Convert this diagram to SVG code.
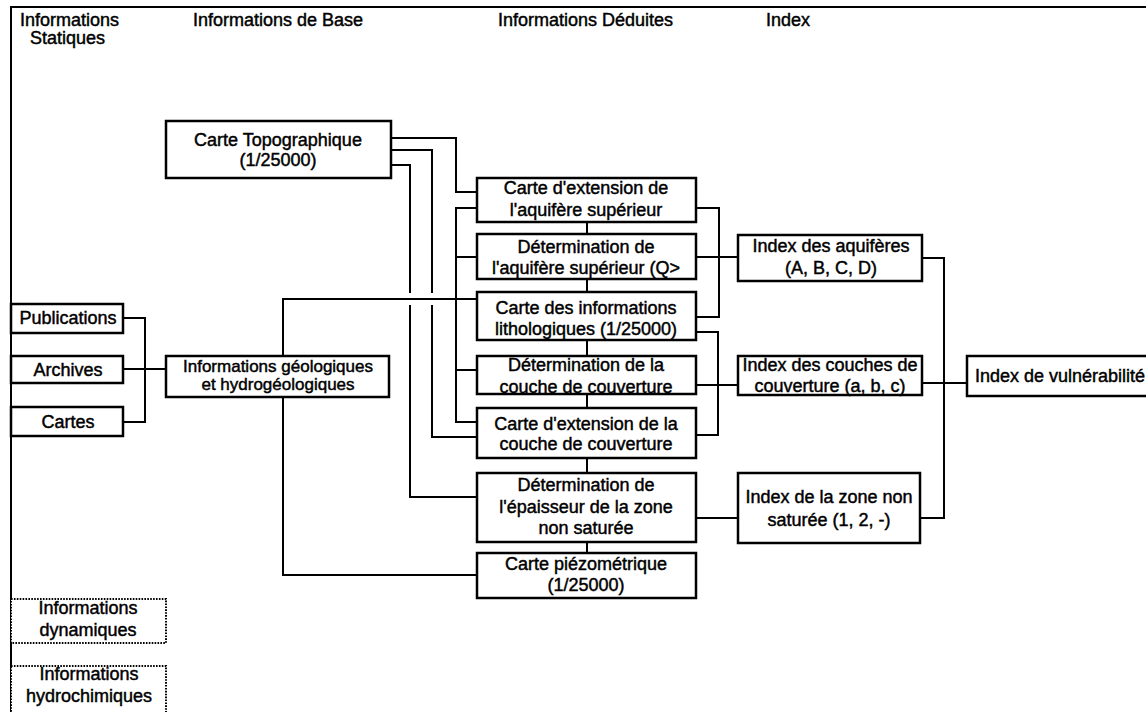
<svg xmlns="http://www.w3.org/2000/svg" width="1146" height="712" viewBox="0 0 1146 712">
<style>
text{font-family:"Liberation Sans",Arial,sans-serif;font-size:18px;fill:#000;stroke:#000;stroke-width:0.45}
.c{text-anchor:middle}
.s{font-size:17px}
.box{fill:#fff;stroke:#000;stroke-width:2.5}
.dot{fill:#fff;stroke:#000;stroke-width:2;stroke-dasharray:1.6 1.3}
.ln{fill:none;stroke:#000;stroke-width:2}
</style>
<rect width="1146" height="712" fill="#fff"/>
<g id="frame"><path class="ln" d="M11,712 V7 H1146" stroke-width="1.8"/></g>
<g id="headers">
<text x="20" y="26">Informations</text>
<text x="30" y="44">Statiques</text>
<text x="193" y="26">Informations de Base</text>
<text x="498" y="26">Informations Déduites</text>
<text x="766" y="26">Index</text>
</g>
<g id="connectors">
<path class="ln" d="M123,318 H145 V422 H123"/>
<path class="ln" d="M123,369 H166"/>
<path class="ln" d="M283,356 V299 H477"/>
<path class="ln" d="M283,397 V575 H477"/>
<path class="ln" d="M391,138 H456 V192 H477"/>
<path class="ln" d="M391,150 H432 V293 M432,305 V437 H477"/>
<path class="ln" d="M391,165 H410 V293 M410,305 V497 H477"/>
<path class="ln" d="M477,208 H456 V422 H477 M456,257 H477 M456,370 H477"/>
<path class="ln" d="M587,222 V234 M587,279 V292 M587,340 V356 M587,394 V408 M587,458 V473 M587,542 V553"/>
<path class="ln" d="M696,208 H719 V317 H696 M696,257 H738"/>
<path class="ln" d="M696,332 H718 V435 H696 M696,385 H738"/>
<path class="ln" d="M696,518 H738"/>
<path class="ln" d="M922,258 H944 V518 H920 M922,383 H967"/>
</g>
<g id="n-publications"><rect class="box" x="11" y="304" width="112" height="29"/><text class="c" x="68" y="324">Publications</text></g>
<g id="n-archives"><rect class="box" x="11" y="356" width="112" height="27"/><text class="c" x="68" y="376">Archives</text></g>
<g id="n-cartes"><rect class="box" x="11" y="407" width="112" height="29"/><text class="c" x="68" y="428">Cartes</text></g>
<g id="n-dynamiques"><rect class="dot" x="11" y="599" width="155" height="44"/><text class="c" x="88" y="614">Informations</text><text class="c" x="88" y="636">dynamiques</text></g>
<g id="n-hydrochimiques"><rect class="dot" x="11" y="666" width="155" height="52"/><text class="c" x="89" y="680">Informations</text><text class="c" x="89" y="702">hydrochimiques</text></g>
<g id="n-topo"><rect class="box" x="166" y="121" width="225" height="57"/><text class="c" x="278" y="146">Carte Topographique</text><text class="c" x="278" y="166">(1/25000)</text></g>
<g id="n-geol"><rect class="box" x="166" y="356" width="223" height="41"/><text class="c s" x="278" y="372">Informations géologiques</text><text class="c s" x="278" y="390">et hydrogéologiques</text></g>
<g id="n-ext-aq"><rect class="box" x="477" y="178" width="219" height="44"/><text class="c" x="586" y="194">Carte d'extension de</text><text class="c" x="586" y="216">l'aquifère supérieur</text></g>
<g id="n-det-aq"><rect class="box" x="477" y="234" width="219" height="45"/><text class="c" x="586" y="253">Détermination de</text><text class="c" x="586" y="274">l'aquifère supérieur (Q&gt;</text></g>
<g id="n-litho"><rect class="box" x="477" y="292" width="219" height="48"/><text class="c" x="586" y="314">Carte des informations</text><text class="c" x="586" y="335">lithologiques (1/25000)</text></g>
<g id="n-det-couche"><rect class="box" x="477" y="356" width="219" height="38"/><text class="c" x="586" y="371">Détermination de la</text><text class="c" x="586" y="393">couche de couverture</text></g>
<g id="n-ext-couche"><rect class="box" x="477" y="408" width="219" height="50"/><text class="c" x="586" y="430">Carte d'extension de la</text><text class="c" x="586" y="450">couche de couverture</text></g>
<g id="n-det-zns"><rect class="box" x="477" y="473" width="219" height="69"/><text class="c" x="586" y="491">Détermination de</text><text class="c" x="586" y="513">l'épaisseur de la zone</text><text class="c" x="586" y="534">non saturée</text></g>
<g id="n-piezo"><rect class="box" x="477" y="553" width="219" height="45"/><text class="c" x="586" y="570">Carte piézométrique</text><text class="c" x="586" y="591">(1/25000)</text></g>
<g id="n-idx-aq"><rect class="box" x="738" y="235" width="184" height="46"/><text class="c" x="831" y="252">Index des aquifères</text><text class="c" x="831" y="274">(A, B, C, D)</text></g>
<g id="n-idx-couche"><rect class="box" x="738" y="356" width="184" height="39"/><text class="c" x="830" y="371">Index des couches de</text><text class="c" x="830" y="392">couverture (a, b, c)</text></g>
<g id="n-idx-zns"><rect class="box" x="738" y="473" width="182" height="70"/><text class="c" x="829" y="503">Index de la zone non</text><text class="c" x="829" y="526">saturée (1, 2, -)</text></g>
<g id="n-idx-vuln"><rect class="box" x="967" y="356" width="190" height="40"/><text x="975" y="382">Index de vulnérabilité</text></g>
</svg>
